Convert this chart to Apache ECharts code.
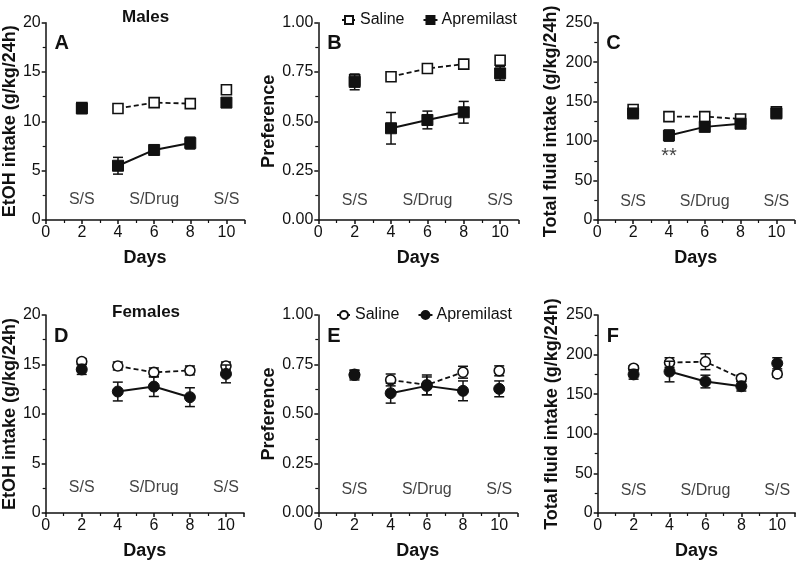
<!DOCTYPE html>
<html><head><meta charset="utf-8">
<script src="https://cdn.jsdelivr.net/npm/echarts@6/dist/echarts.min.js"></script>
<style>html,body{margin:0;padding:0;background:#fff}#c{width:800px;height:561px}</style>
</head><body><div id="c"></div>
<script>
const days = [2, 4, 6, 8, 10];
const xTicks = [0, 2, 4, 6, 8, 10];
const phaseLabels = ['S/S', 'S/Drug', 'S/S'];
const phaseDays = [2, 6, 10];

// Panel A: Males EtOH intake
const aSalMean = [11.4, 11.3, 11.9, 11.8, 13.2];
const aSalErr  = [0.3, 0.3, 0.2, 0.2, 0.3];
const aApMean  = [11.3, 5.5, 7.1, 7.8, 11.9];
const aApErr   = [0.45, 0.85, 0.45, 0.6, 0.3];
// Panel B: Males preference
const bSalMean = [0.71, 0.726, 0.768, 0.79, 0.81];
const bSalErr  = [0.02, 0.015, 0.015, 0.015, 0.02];
const bApMean  = [0.70, 0.465, 0.507, 0.546, 0.743];
const bApErr   = [0.04, 0.08, 0.045, 0.055, 0.035];
// Panel C: Males total fluid
const cSalMean = [140, 131, 131, 128, 137];
const cSalErr  = [3, 3, 3, 3, 3];
const cApMean  = [135, 107, 118, 122, 135];
const cApErr   = [4, 7, 4, 3, 4];
// Panel D: Females EtOH intake
const dSalMean = [15.3, 14.85, 14.2, 14.4, 14.85];
const dSalErr  = [0.3, 0.4, 0.45, 0.45, 0.4];
const dApMean  = [14.5, 12.27, 12.77, 11.7, 14.05];
const dApErr   = [0.5, 0.95, 1.0, 0.95, 0.9];
// Panel E: Females preference
const eSalMean = [0.70, 0.672, 0.647, 0.711, 0.718];
const eSalErr  = [0.02, 0.03, 0.05, 0.03, 0.025];
const eApMean  = [0.697, 0.605, 0.642, 0.617, 0.627];
const eApErr   = [0.025, 0.05, 0.045, 0.05, 0.04];
// Panel F: Females total fluid
const fSalMean = [182.8, 190, 191, 170, 175.6];
const fSalErr  = [3, 6, 10, 4, 4];
const fApMean  = [175, 178.6, 166, 160, 189];
const fApErr   = [6, 13, 8, 6, 7];

const FONT = 'Liberation Sans, Arial, sans-serif';
const INK = '#111';

const panels = [
  {letter:'A', yName:'EtOH intake (g/kg/24h)', max:20, interval:5, dec:0, sal:aSalMean, salE:aSalErr, ap:aApMean, apE:aApErr, phaseY:2.1, sym:'rect', fem:false, grid:{left:45.5, top:22.7, width:199, height:197.3}, nameGap:23},
  {letter:'B', yName:'Preference', max:1, interval:0.25, dec:2, sal:bSalMean, salE:bSalErr, ap:bApMean, apE:bApErr, phaseY:0.1, sym:'rect', fem:false, grid:{left:318.3, top:22.7, width:200, height:197.3}, nameGap:38},
  {letter:'C', yName:'Total fluid intake (g/kg/24h)', max:250, interval:50, dec:0, sal:cSalMean, salE:cSalErr, ap:cApMean, apE:cApErr, phaseY:23, sym:'rect', fem:false, grid:{left:597.3, top:22.7, width:197, height:197.3}, nameGap:37},
  {letter:'D', yName:'EtOH intake (g/kg/24h)', max:20, interval:5, dec:0, sal:dSalMean, salE:dSalErr, ap:dApMean, apE:dApErr, phaseY:2.6, sym:'circle', fem:true, grid:{left:45, top:315, width:199, height:198.3}, nameGap:23},
  {letter:'E', yName:'Preference', max:1, interval:0.25, dec:2, sal:eSalMean, salE:eSalErr, ap:eApMean, apE:eApErr, phaseY:0.12, sym:'circle', fem:true, grid:{left:318.3, top:315, width:199, height:198.3}, nameGap:38},
  {letter:'F', yName:'Total fluid intake (g/kg/24h)', max:250, interval:50, dec:0, sal:fSalMean, salE:fSalErr, ap:fApMean, apE:fApErr, phaseY:28.6, sym:'circle', fem:true, grid:{left:597.7, top:315, width:197.5, height:198.3}, nameGap:37}
];

function errRender(params, api) {
  const x = api.value(0), lo = api.value(1), hi = api.value(2);
  const p1 = api.coord([x, lo]), p2 = api.coord([x, hi]);
  const w = 5;
  const st = {stroke: INK, lineWidth: 1.5};
  return {type:'group', children:[
    {type:'line', shape:{x1:p1[0], y1:p1[1], x2:p2[0], y2:p2[1]}, style:st},
    {type:'line', shape:{x1:p1[0]-w, y1:p1[1], x2:p1[0]+w, y2:p1[1]}, style:st},
    {type:'line', shape:{x1:p2[0]-w, y1:p2[1], x2:p2[0]+w, y2:p2[1]}, style:st}
  ]};
}

const grids = [], xAxes = [], yAxes = [], series = [], graphics = [];
panels.forEach((p, i) => {
  grids.push(p.grid);
  xAxes.push({type:'value', gridIndex:i, min:0, max:11, interval:2,
    name:'Days', nameLocation:'middle', nameGap:29,
    nameTextStyle:{fontFamily:FONT, fontSize:18, fontWeight:'bold', color:INK},
    axisLine:{lineStyle:{color:INK, width:1.5}},
    axisTick:{length:4, lineStyle:{color:INK, width:1.5}},
    minorTick:{show:true, splitNumber:2, length:3, lineStyle:{color:INK, width:1.2}},
    axisLabel:{fontFamily:FONT, fontSize:16, color:INK, margin:5,
      formatter: v => xTicks.indexOf(v) >= 0 ? String(v) : ''},
    splitLine:{show:false}});
  yAxes.push({type:'value', gridIndex:i, min:0, max:p.max, interval:p.interval,
    name:p.yName, nameLocation:'middle', nameGap:p.nameGap,
    nameTextStyle:{fontFamily:FONT, fontSize:18, fontWeight:'bold', color:INK},
    axisLine:{show:true, lineStyle:{color:INK, width:1.5}},
    axisTick:{show:true, length:4, lineStyle:{color:INK, width:1.5}},
    minorTick:{show:true, splitNumber:2, length:3, lineStyle:{color:INK, width:1.2}},
    axisLabel:{fontFamily:FONT, fontSize:16, color:INK, margin:5, formatter: v => v.toFixed(p.dec)},
    splitLine:{show:false}});

  const salName = p.fem ? 'F-Saline' : 'Saline';
  const apName = p.fem ? 'F-Apremilast' : 'Apremilast';
  const openStyle = {color:'#fff', borderColor:INK, borderWidth:1.6, opacity:1};
  const fillStyle = {color:INK, borderColor:INK, borderWidth:1, opacity:1};
  const symSize = 10;

  series.push({type:'custom', xAxisIndex:i, yAxisIndex:i, renderItem:errRender, z:2, silent:true,
    encode:{x:0, y:[1,2]}, data: days.map((d,k) => [d, p.sal[k]-p.salE[k], p.sal[k]+p.salE[k]])});
  series.push({type:'custom', xAxisIndex:i, yAxisIndex:i, renderItem:errRender, z:4, silent:true,
    encode:{x:0, y:[1,2]}, data: days.map((d,k) => [d, p.ap[k]-p.apE[k], p.ap[k]+p.apE[k]])});

  series.push({type:'line', name:salName, xAxisIndex:i, yAxisIndex:i, z:3,
    symbol:p.sym, symbolSize:symSize, showAllSymbol:true,
    lineStyle:{color:INK, width:1.8, type:[5,3]}, itemStyle:openStyle,
    data: [1,2,3].map(k => [days[k], p.sal[k]])});
  series.push({type:'scatter', name:salName, xAxisIndex:i, yAxisIndex:i, z:3,
    symbol:p.sym, symbolSize:symSize, itemStyle:openStyle,
    data: [0,4].map(k => [days[k], p.sal[k]])});
  series.push({type:'line', name:apName, xAxisIndex:i, yAxisIndex:i, z:5,
    symbol:p.sym, symbolSize:symSize+1, showAllSymbol:true,
    lineStyle:{color:INK, width:2}, itemStyle:fillStyle,
    data: [1,2,3].map(k => [days[k], p.ap[k]])});
  series.push({type:'scatter', name:apName, xAxisIndex:i, yAxisIndex:i, z:5,
    symbol:p.sym, symbolSize:symSize+1, itemStyle:fillStyle,
    data: [0,4].map(k => [days[k], p.ap[k]])});

  series.push({type:'scatter', xAxisIndex:i, yAxisIndex:i, symbolSize:0, silent:true, z:1,
    label:{show:true, position:'inside', formatter: q => q.data[2], fontFamily:FONT, fontSize:16, color:INK},
    data: phaseDays.map((d,k) => [d, p.phaseY, phaseLabels[k]])});

  graphics.push({type:'text', left:p.grid.left + 9, top:p.grid.top + 11,
    style:{text:p.letter, font:'bold 20px ' + FONT, fill:INK}});
});

// significance marker, panel C day 4
series.push({type:'scatter', xAxisIndex:2, yAxisIndex:2, symbolSize:0, silent:true,
  label:{show:true, position:'inside', formatter:'**', fontFamily:FONT, fontSize:20, color:INK},
  data:[[4, 80]]});

graphics.push({type:'text', left:122, top:9, style:{text:'Males', font:'bold 17px ' + FONT, fill:INK}});
graphics.push({type:'text', left:112, top:304, style:{text:'Females', font:'bold 17px ' + FONT, fill:INK}});

const legendCommon = {itemWidth:14, itemHeight:10, itemGap:18,
  textStyle:{fontFamily:FONT, fontSize:16, color:INK, padding:[0,0,0,-1]}};
const option = {
  animation:false,
  backgroundColor:'#fff',
  grid: grids, xAxis: xAxes, yAxis: yAxes, series: series, graphic: graphics,
  legend:[
    Object.assign({left:336, top:7, data:['Saline','Apremilast']}, legendCommon),
    Object.assign({left:331, top:302, data:['F-Saline','F-Apremilast'], formatter: n => n.replace('F-','')}, legendCommon)
  ]
};
const chart = echarts.init(document.getElementById('c'), null, {renderer:'canvas'});
chart.setOption(option);
</script></body></html>
